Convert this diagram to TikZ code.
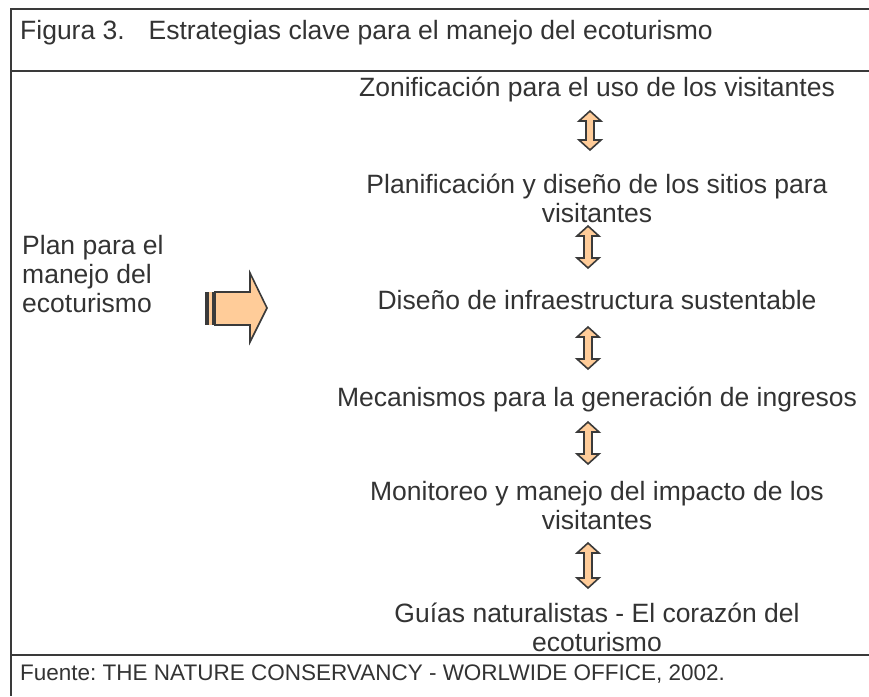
\documentclass[tikz,border=0pt]{standalone}
\usepackage{fontspec}
\setmainfont{Liberation Sans}
\usetikzlibrary{positioning}
\definecolor{fInk}{HTML}{333333}
\definecolor{fLine}{HTML}{3A3A3A}
\definecolor{fFill}{HTML}{FFCC99}
\frenchspacing
\tikzset{
  txt/.style={text=fInk, font=\fontsize{26.5}{29}\selectfont, inner sep=0pt, align=center},
  note/.style={text=fInk, font=\fontsize{22.5}{27}\selectfont, inner sep=0pt},
  arrowShape/.style={draw=fLine, fill=fFill, line width=1.6pt, line join=miter},
  rule/.style={draw=fLine, line width=2pt}
}
% up-down arrow: centre x, top y, bottom y
\newcommand{\updownArrow}[3]{%
  \draw[arrowShape] (#1,#2) -- ++(11,10) -- ++(-7,0) -- (#1+4,#3-10) -- ++(7,0) -- (#1,#3)
    -- ++(-11,-10) -- ++(7,0) -- (#1-4,#2+10) -- ++(-7,0) -- cycle;}
\begin{document}
\begin{tikzpicture}[x=1pt, y=-1pt]
  \useasboundingbox (0,0) rectangle (869,696);
  % frame
  \draw[rule] (869,9) -- (11,9) -- (11,696);
  \draw[rule] (11,71) -- (869,71);
  \draw[rule] (11,655) -- (869,655);
  % captions
  \node[txt, anchor=base west] (title) at (20,39) {Figura 3.\hspace{0.9em}Estrategias clave para el manejo del ecoturismo};
  \node[note, anchor=base west] (source) at (20,680) {Fuente: THE NATURE CONSERVANCY - WORLWIDE OFFICE, 2002.};
  % plan
  \node[txt, anchor=base west, align=left] (plan) at (22,312) {Plan para el\\manejo del\\ecoturismo};
  \fill[fFill] (205,292) rectangle (215,325);
  \fill[fLine] (205,292) rectangle (209.3,325);
  \fill[fLine] (211.7,292) rectangle (215,325);
  \draw[arrowShape] (215,292) -- (250,292) -- (250,273) -- (267,308) -- (250,342) -- (250,325) -- (215,325) -- cycle;
  % strategies
  \node[txt, anchor=base] (zone) at (597,96) {Zonificación para el uso de los visitantes};
  \node[txt, anchor=base] (site) at (597,222) {Planificación y diseño de los sitios para\\visitantes};
  \node[txt, anchor=base] (infra) at (597,309) {Diseño de infraestructura sustentable};
  \node[txt, anchor=base] (income) at (597,406) {Mecanismos para la generación de ingresos};
  \node[txt, anchor=base] (impact) at (597,529) {Monitoreo y manejo del impacto de los\\visitantes};
  \node[txt, anchor=base] (guide) at (597,651) {Guías naturalistas - El corazón del\\ecoturismo};
  \updownArrow{590}{111}{150}
  \updownArrow{588}{226}{268}
  \updownArrow{588}{327}{369}
  \updownArrow{588}{422}{464}
  \updownArrow{588}{543}{588}
\end{tikzpicture}
\end{document}
